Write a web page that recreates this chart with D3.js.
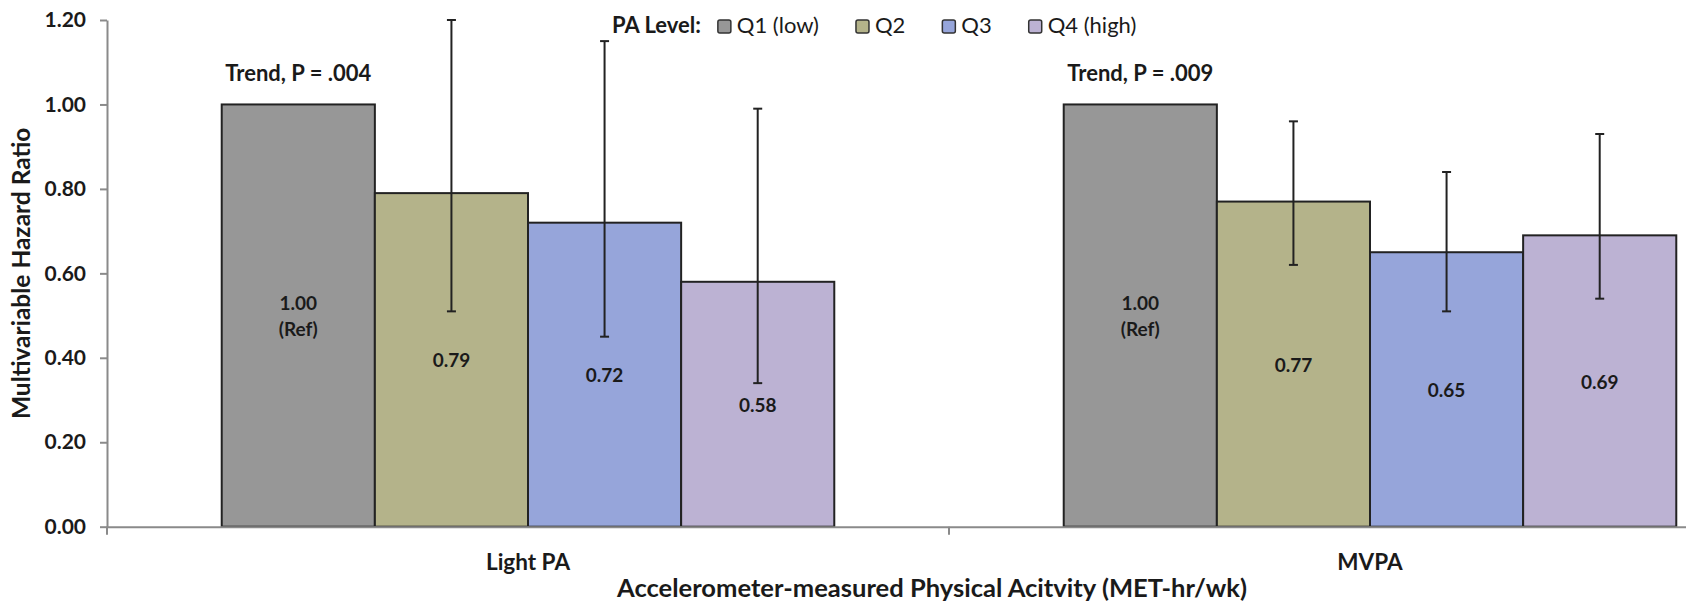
<!DOCTYPE html>
<html><head><meta charset="utf-8">
<script src="https://cdn.jsdelivr.net/npm/d3@7"></script>
<style>
body{margin:0;background:#fff}
svg text{font-family:Lato,'Liberation Sans',sans-serif;fill:#1a1a1a}
</style>
</head><body><svg id="c" width="1686" height="604"></svg>
<script>
// ---- data ----
const groups = ["Light PA", "MVPA"];
const levels = ["Q1 (low)", "Q2", "Q3", "Q4 (high)"];
const lightPA = [1.00, 0.79, 0.72, 0.58];
const mvpa = [1.00, 0.77, 0.65, 0.69];
const lightPALower = [null, 0.51, 0.45, 0.34];
const lightPAUpper = [null, 1.20, 1.15, 0.99];
const mvpaLower = [null, 0.62, 0.51, 0.54];
const mvpaUpper = [null, 0.96, 0.84, 0.93];
const barLabels = [["1.00", "(Ref)"], ["0.79"], ["0.72"], ["0.58"]];
const mvpaBarLabels = [["1.00", "(Ref)"], ["0.77"], ["0.65"], ["0.69"]];
const trendLabels = ["Trend, P = .004", "Trend, P = .009"];
const yTicks = [0, 0.2, 0.4, 0.6, 0.8, 1.0, 1.2];
const colors = ["#979797", "#b4b38a", "#96a5da", "#bcb2d3"];
const xTitle = "Accelerometer-measured Physical Acitvity (MET-hr/wk)";
const yTitle = "Multivariable Hazard Ratio";
const legendTitle = "PA Level:";

// ---- build table ----
const series = [
  {group: groups[0], values: lightPA, lo: lightPALower, hi: lightPAUpper, labels: barLabels, trend: trendLabels[0]},
  {group: groups[1], values: mvpa, lo: mvpaLower, hi: mvpaUpper, labels: mvpaBarLabels, trend: trendLabels[1]}
];

const svg = d3.select("#c");
const y = d3.scaleLinear().domain([0, 1.2]).range([526.7, 20]);
const x0 = d3.scaleBand().domain(groups).range([107, 1791]).paddingInner(0.2725).paddingOuter(0.13625);
const x1 = d3.scaleBand().domain(levels).range([0, x0.bandwidth()]).padding(0);

// bars
const g = svg.append("g");
series.forEach(s => {
  const gg = g.append("g").attr("transform", `translate(${x0(s.group)},0)`);
  gg.selectAll("rect").data(levels).join("rect")
    .attr("x", (d) => x1(d))
    .attr("y", (d, i) => y(s.values[i]))
    .attr("width", x1.bandwidth())
    .attr("height", (d, i) => y(0) - y(s.values[i]))
    .attr("fill", (d, i) => colors[i])
    .attr("stroke", "#222")
    .attr("stroke-width", 2);
  levels.forEach((lv, i) => {
    const cx = x1(lv) + x1.bandwidth() / 2;
    const cy = (y(s.values[i]) + y(0)) / 2;
    const lines = s.labels[i];
    const lh = 26;
    lines.forEach((t, k) => {
      gg.append("text")
        .attr("x", cx)
        .attr("y", cy + (k - (lines.length - 1) / 2) * lh)
        .attr("text-anchor", "middle")
        .attr("dominant-baseline", "central")
        .attr("font-size", 19)
        .attr("font-weight", "bold")
        .text(t);
    });
    if (s.lo[i] != null) {
      const eb = gg.append("g").attr("stroke", "#222").attr("stroke-width", 2);
      eb.append("line").attr("x1", cx).attr("x2", cx).attr("y1", y(s.lo[i])).attr("y2", y(s.hi[i]));
      eb.append("line").attr("x1", cx - 4.5).attr("x2", cx + 4.5).attr("y1", y(s.lo[i])).attr("y2", y(s.lo[i]));
      eb.append("line").attr("x1", cx - 4.5).attr("x2", cx + 4.5).attr("y1", y(s.hi[i])).attr("y2", y(s.hi[i]));
    }
  });
  gg.append("text")
    .attr("x", x1(levels[0]) + x1.bandwidth() / 2)
    .attr("y", y(1.0) - 23)
    .attr("text-anchor", "middle")
    .attr("font-size", 22)
    .attr("font-weight", "bold")
    .text(s.trend);
});

// y axis
const yAxis = svg.append("g").attr("transform", "translate(107,0)")
  .call(d3.axisLeft(y).tickValues(yTicks).tickFormat(d3.format(".2f")).tickSize(7).tickSizeOuter(0).tickPadding(14));
yAxis.select(".domain").attr("stroke", "#8a8a8a").attr("stroke-width", 2);
yAxis.selectAll(".tick line").attr("stroke", "#8a8a8a").attr("stroke-width", 2);
yAxis.selectAll(".tick text").attr("font-size", 21).attr("font-weight", "bold").attr("fill", "#1a1a1a")
  .style("font-family", "Lato,'Liberation Sans',sans-serif");

// x axis
const xAxis = svg.append("g").attr("transform", `translate(0,${y(0)})`)
  .call(d3.axisBottom(x0).tickSize(0).tickSizeOuter(0).tickPadding(27));
xAxis.select(".domain").attr("stroke", "#8a8a8a").attr("stroke-width", 2);
xAxis.selectAll(".tick text").attr("font-size", 22.5).attr("font-weight", "bold").attr("fill", "#1a1a1a")
  .style("font-family", "Lato,'Liberation Sans',sans-serif");
const bounds = d3.range(groups.length + 1).map(i => x0.range()[0] + i * x0.step());
xAxis.selectAll(".bound").data(bounds).join("line").attr("class", "bound")
  .attr("x1", d => d).attr("x2", d => d).attr("y1", 0).attr("y2", 8)
  .attr("stroke", "#8a8a8a").attr("stroke-width", 2);

// axis titles
svg.append("text")
  .attr("transform", `translate(30,${(y(0) + y(1.2)) / 2}) rotate(-90)`)
  .attr("text-anchor", "middle")
  .attr("font-size", 24.5)
  .attr("font-weight", "bold")
  .text(yTitle);
svg.append("text")
  .attr("x", 617).attr("y", 597)
  .attr("text-anchor", "start")
  .attr("font-size", 24)
  .attr("font-weight", "bold")
  .attr("textLength", 630)
  .attr("lengthAdjust", "spacingAndGlyphs")
  .text(xTitle);

// legend
const leg = svg.append("g").attr("transform", "translate(612,33)");
const lt = leg.append("text").attr("x", 0).attr("y", 0).attr("font-size", 22).attr("font-weight", "bold").text(legendTitle);
let lx = lt.node().getComputedTextLength() + 17;
levels.forEach((lv, i) => {
  leg.append("rect").attr("x", lx).attr("y", -13).attr("width", 13).attr("height", 13).attr("rx", 2)
    .attr("fill", colors[i]).attr("stroke", "#333").attr("stroke-width", 1.5);
  const t = leg.append("text").attr("x", lx + 19).attr("y", 0).attr("font-size", 22).text(lv);
  lx += 19 + t.node().getComputedTextLength() + 37;
});
</script>
</body></html>
